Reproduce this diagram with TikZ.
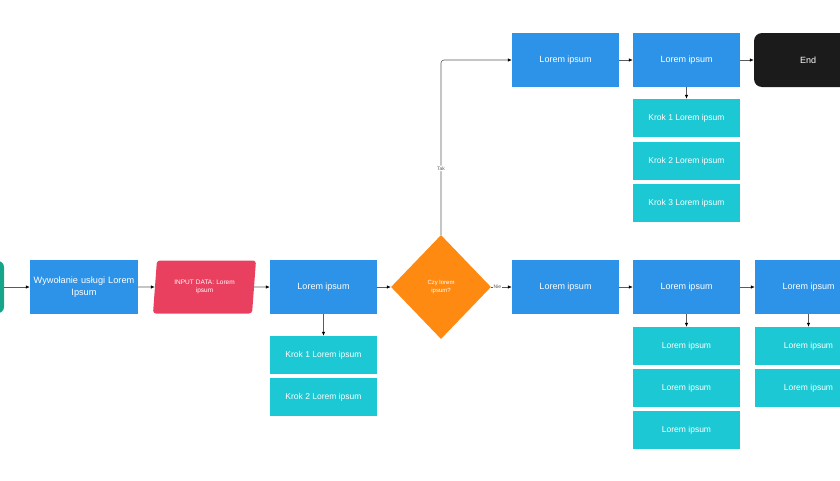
\documentclass[tikz,border=0pt]{standalone}
\usepackage{fontspec}
\setmainfont{Liberation Sans}
\usetikzlibrary{shapes.geometric, arrows.meta}
\definecolor{blu}{HTML}{2D93E8}
\definecolor{ciano}{HTML}{1CC8D3}
\definecolor{verde}{HTML}{17A589}
\definecolor{rosso}{HTML}{E8405E}
\definecolor{arancio}{HTML}{FF8A12}
\definecolor{nero}{HTML}{1B1B1B}
\definecolor{grigio}{HTML}{5A5A5A}

\begin{document}
\begin{tikzpicture}[x=1pt, y=-1pt,
    blocco/.style = {fill=blu, text=white, minimum width=107pt, minimum height=54pt, inner sep=2pt, font=\fontsize{9}{11}\selectfont},
    passo/.style = {fill=ciano, text=white, minimum width=107pt, minimum height=38pt, inner sep=2pt, font=\fontsize{8.5}{10}\selectfont},
    freccia/.style = {draw=grigio, line width=0.6pt, -{Latex[length=4pt, width=3.5pt, color=black]}},
    etichetta/.style = {fill=white, text=grigio, inner sep=1pt, font=\fontsize{5}{6}\selectfont}]
    % Bordi
    \useasboundingbox (0,0) rectangle (840,480);
    % Riga centrale
    \node[fill=verde, rounded corners=6pt, minimum width=100pt, minimum height=52pt] (inizio) at (-46,287) {};
    \node[blocco, text width=104pt, align=center, font=\fontsize{9.2}{12}\selectfont] (chiamata) at (84,287) {Wywołanie usługi Lorem\\ Ipsum};
    \node[trapezium, trapezium left angle=76, trapezium right angle=104, trapezium stretches body, fill=rosso, text=white, rounded corners=3pt, minimum width=103pt, minimum height=53pt, inner sep=1pt, text width=70pt, align=center, font=\fontsize{6.5}{8}\selectfont] (dati) at (204.5,287) {INPUT DATA: Lorem\\ ipsum};
    \node[blocco] (lorem) at (323.5,287) {Lorem ipsum};
    \node[passo] (kroka) at (323.5,355) {Krok 1 Lorem ipsum};
    \node[passo] (krokb) at (323.5,397) {Krok 2 Lorem ipsum};
    \node[diamond, fill=arancio, text=white, minimum width=100pt, minimum height=104pt, inner sep=0pt, align=center, font=\fontsize{6}{7.5}\selectfont] (scelta) at (441,287) {Czy lorem\\ ipsum?};
    % Ramo Tak
    \node[blocco] (tak) at (565.5,60) {Lorem ipsum};
    \node[blocco] (takdue) at (686.5,60) {Lorem ipsum};
    \node[fill=nero, text=white, rounded corners=8pt, minimum width=108pt, minimum height=54pt, font=\fontsize{9}{11}\selectfont] (koniec) at (808,60) {End};
    \node[passo] (takk1) at (686.5,118) {Krok 1 Lorem ipsum};
    \node[passo] (takk2) at (686.5,161) {Krok 2 Lorem ipsum};
    \node[passo] (takk3) at (686.5,203) {Krok 3 Lorem ipsum};
    % Ramo Nie
    \node[blocco] (nie) at (565.5,287) {Lorem ipsum};
    \node[blocco] (niedue) at (686.5,287) {Lorem ipsum};
    \node[blocco] (nietre) at (808.5,287) {Lorem ipsum};
    \node[passo] (niedue1) at (686.5,346) {Lorem ipsum};
    \node[passo] (niedue2) at (686.5,388) {Lorem ipsum};
    \node[passo] (niedue3) at (686.5,430) {Lorem ipsum};
    \node[passo] (nietre1) at (808.5,346) {Lorem ipsum};
    \node[passo] (nietre2) at (808.5,388) {Lorem ipsum};
    % Frecce
    \draw[freccia] (inizio) -- (chiamata);
    \draw[freccia] (chiamata) -- (dati);
    \draw[freccia] (dati) -- (lorem);
    \draw[freccia] (lorem) -- (scelta);
    \draw[freccia] (lorem) -- (kroka);
    \draw[freccia, rounded corners=3pt] (scelta.north) |- node[pos=0.19, etichetta]{Tak} (tak);
    \draw[freccia] (scelta) -- node[pos=0.3, etichetta]{Nie} (nie);
    \draw[freccia] (tak) -- (takdue);
    \draw[freccia] (takdue) -- (koniec);
    \draw[freccia] (takdue) -- (takk1);
    \draw[freccia] (nie) -- (niedue);
    \draw[freccia] (niedue) -- (nietre);
    \draw[freccia] (niedue) -- (niedue1);
    \draw[freccia] (nietre) -- (nietre1);
\end{tikzpicture}
\end{document}
